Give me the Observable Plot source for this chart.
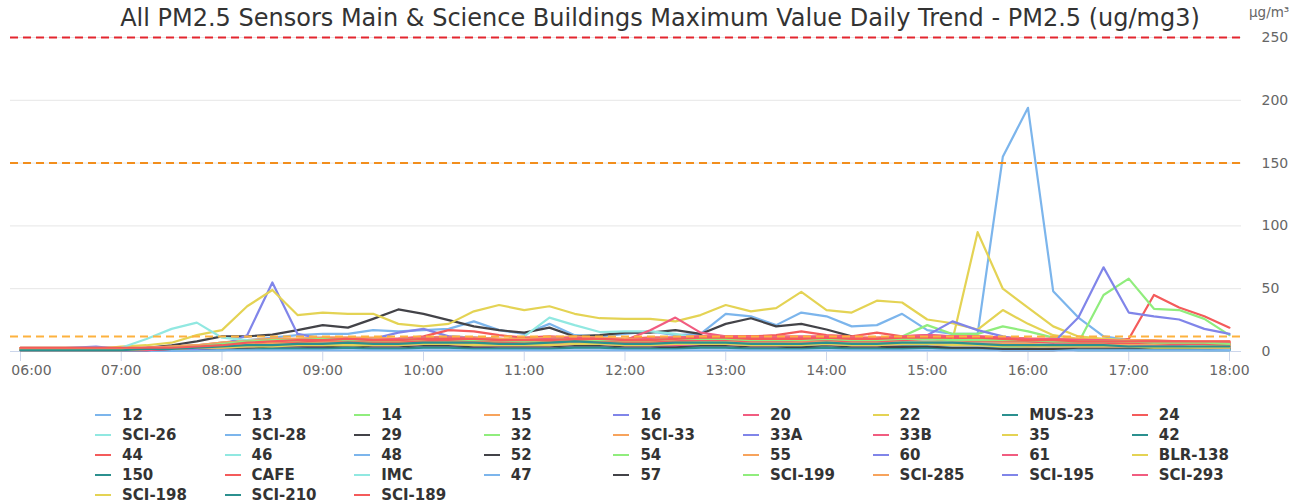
<!DOCTYPE html>
<html>
<head>
<meta charset="utf-8">
<script src="https://cdn.jsdelivr.net/npm/d3@7"></script>
<script src="https://cdn.jsdelivr.net/npm/@observablehq/plot@0.6"></script>
<style>
  html, body { margin: 0; padding: 0; background: #fff; overflow: hidden; }
  body { width: 1298px; height: 504px; font-family: "DejaVu Sans", sans-serif; }
  #header { position: relative; height: 30px; }
  #title { position: absolute; left: 0; top: 7px; width: 1320px; text-align: center; color: #333; font-size: 21.5px; line-height: 22px; white-space: nowrap; }
  #unit { position: absolute; left: 1249px; top: 5px; color: #666; font-size: 13.5px; line-height: 14px; }
  #chart { height: 360px; }
  #legend { position: relative; height: 114px; }
  .item { position: absolute; height: 20px; display: flex; align-items: center; font-weight: bold; font-size: 15px; color: #333; white-space: nowrap; }
  .sym { width: 16px; height: 2.5px; margin-right: 11px; }
</style>
</head>
<body>
<div id="header"><div id="title"></div><div id="unit"></div></div>
<div id="chart"></div>
<div id="legend"></div>
<script>
const titleText = "All PM2.5 Sensors Main & Science Buildings Maximum Value Daily Trend - PM2.5 (ug/mg3)";
const unitText = "µg/m³";

const times = ["06:00","06:15","06:30","06:45","07:00","07:15","07:30","07:45","08:00","08:15",
  "08:30","08:45","09:00","09:15","09:30","09:45","10:00","10:15","10:30","10:45",
  "11:00","11:15","11:30","11:45","12:00","12:15","12:30","12:45","13:00","13:15",
  "13:30","13:45","14:00","14:15","14:30","14:45","15:00","15:15","15:30","15:45",
  "16:00","16:15","16:30","16:45","17:00","17:15","17:30","17:45","18:00"];
const hourTicks = ["06:00","07:00","08:00","09:00","10:00","11:00","12:00","13:00","14:00","15:00","16:00","17:00","18:00"];
const yTicks = [0, 50, 100, 150, 200, 250];
const gridValues = [50, 100, 150, 200, 250];
const thresholds = [250, 150, 12];
const thresholdColors = ["#e3262f", "#f28e1c", "#fdb23e"];

const names = ["12","13","14","15","16","20","22","MUS-23","24",
  "SCI-26","SCI-28","29","32","SCI-33","33A","33B","35","42",
  "44","46","48","52","54","55","60","61","BLR-138",
  "150","CAFE","IMC","47","57","SCI-199","SCI-285","SCI-195","SCI-293",
  "SCI-198","SCI-210","SCI-189"];
const colors = ["#7cb5ec","#434348","#90ed7d","#f7a35c","#8085e9","#f15c80","#e4d354","#2b908f","#f45b5b",
  "#91e8e1","#7cb5ec","#434348","#90ed7d","#f7a35c","#8085e9","#f15c80","#e4d354","#2b908f",
  "#f45b5b","#91e8e1","#7cb5ec","#434348","#90ed7d","#f7a35c","#8085e9","#f15c80","#e4d354",
  "#2b908f","#f45b5b","#91e8e1","#7cb5ec","#434348","#90ed7d","#f7a35c","#8085e9","#f15c80",
  "#e4d354","#2b908f","#f45b5b"];

const s12 = [3,3,3,3,3,3,4,5,7,9, 11,13,14,14,17,16,17,18,24,17, 14,22,13,12,14,16,13,14,30,28, 21,31,28,20,21,30,17,14,14,155, 194,48,27,12,9,8,7,7,6];
const s13 = [2,2,2,2,2,3,5,8,12,12, 13.5,17,21,19,26,33.5,30,25,20,17, 15,19,12,13,15,15,17,14,22,26.5, 20,22,17.5,12,9,8,7,7,6,6, 5,5,5,5,4,4,4,4,4];
const s14 = [2,2,2,2,2,2,3,3,4,5, 6,6,7,7,6,6,7,8,7,6, 6,7,8,7,6,6,7,7,8,8, 7,7,6,6,7,8,8,7,7,6, 6,5,5,5,4,4,4,4,3];
const s15 = [3,3,3,3,3,3,4,5,7,9, 10,10,11,11,10,10,11,12,11,10, 10,11,11,10,10,11,11,12,11,11, 10,11,11,10,10,11,12,11,10,11, 10,10,9,9,8,8,8,7,7];
const s16 = [2,2,3,4,2,2,3,4,5,13, 55,14,10,9,10,15,18,12,11,10, 9,10,9,8,9,10,9,9,8,8, 8,9,8,8,8,9,8,8,7,7, 6,6,6,5,5,5,5,4,4];
const s20 = [2,2,2,2,2,2,3,4,5,6, 7,8,9,9,8,8,9,10,9,8, 8,9,10,9,8,9,10,11,12,11, 10,10,9,9,10,11,12,11,11,11, 10,9,8,8,7,7,7,6,6];
const s22 = [2,2,2,2,4,5,7,13,17,36, 49,29,31,30,30,22,20,22,32,37, 33,36,30,26.5,26,26,24,29,37,32, 34.5,47.5,33,31,40.5,39,25.5,22.5,17.5,33, 22,13,10,9,8,8,7,6,6];
const sMUS23 = [1,1,1,1,1,2,2,2,3,4, 5,5,6,6,5,5,6,7,6,5, 5,6,7,8,7,6,6,7,7,6, 6,7,7,6,6,7,7,6,5,5, 5,4,4,4,4,4,3,3,3];
const s24 = [2,2,2,2,2,2,3,3,4,5, 6,7,8,8,7,7,8,9,8,7, 7,8,9,8,7,7,8,9,10,9, 8,9,10,9,8,9,10,10,9,8, 7,7,6,7,10,45,35,28,19];
const sSCI26 = [2,2,2,2,3,10,18,23,11,9, 8,9,10,10,9,9,8,9,10,9, 12,27,21,15.5,16,16,14,10,12,11, 10,9,9,8,8,7,7,7,6,6, 6,5,5,5,5,4,4,4,4];
const sSCI28 = [1,1,1,1,1,1,1,1,2,2, 2,2,3,3,2,2,3,3,3,2, 2,3,3,3,2,2,3,3,3,2, 2,3,3,2,2,3,3,3,2,2, 2,2,2,2,2,2,2,1,1];
const s29 = [2,2,2,2,2,2,2,3,4,5, 6,6,7,7,6,7,8,8,7,6, 6,6,7,7,6,6,7,7,7,6, 6,6,6,5,5,5,4,3,2,1, 1,1,2,2,2,2,2,2,2];
const s32 = [1,1,1,1,1,1,2,2,2,3, 3,3,4,4,3,3,4,4,4,3, 3,4,4,4,3,3,4,4,4,3, 3,3,4,3,3,4,4,4,3,3, 3,3,3,2,2,2,2,2,2];
const sSCI33 = [2,2,2,2,2,3,3,4,6,7, 8,9,9,10,9,9,10,10,9,9, 8,9,10,9,9,9,10,10,10,9, 9,10,10,9,9,10,10,9,9,8, 8,8,8,7,7,7,6,6,6];
const s33A = [2,2,2,2,2,2,2,3,4,5, 6,6,6,7,7,8,8,7,6,6, 6,6,7,6,6,6,6,7,7,6, 6,6,7,6,6,7,7,8,7,6, 6,5,5,5,5,4,4,4,4];
const s33B = [2,2,2,2,2,2,3,3,4,6, 7,8,9,10,9,9,10,11,10,9, 9,10,11,10,9,17,27,15,12,12, 12,12,12,11,11,12,12,12,11,10, 9,9,8,8,7,7,7,6,6];
const s35 = [1,1,1,1,1,2,2,3,4,4, 5,5,6,6,7,6,6,5,6,6, 7,6,5,5,5,6,6,6,7,6, 7,8,7,6,7,7,8,9,95,50, 35,20,12,10,9,8,7,6,5];
const s42 = [1,1,1,1,1,1,2,2,2,3, 3,4,4,4,4,4,5,5,4,4, 4,4,5,5,4,4,4,5,5,4, 4,5,5,4,4,4,5,4,4,3, 3,3,3,3,3,3,3,2,2];
const s44 = [2,2,2,2,2,2,3,3,4,6, 7,8,9,9,9,10,12,17,16,13, 11,12,11,10,10,11,11,12,12,12, 13,16,13,12,15,12,13,12,12,11, 10,9,9,8,8,8,7,7,7];
const s46 = [2,2,2,2,2,2,3,4,5,6, 7,7,8,8,7,7,8,9,8,7, 7,8,9,8,7,7,8,8,8,7, 7,8,8,7,7,8,9,8,7,7, 7,6,6,6,5,5,5,5,4];
const s48 = [1,1,1,1,1,2,2,3,3,4, 5,5,5,6,5,5,6,6,6,5, 5,5,6,6,5,5,6,6,6,5, 5,6,6,5,5,6,6,5,5,5, 5,4,4,4,4,4,3,3,3];
const s52 = [1,1,1,1,1,1,1,2,2,3, 3,3,3,4,3,3,4,4,3,3, 3,3,4,4,3,3,3,4,4,3, 3,3,3,3,3,3,3,2,2,2, 2,2,2,2,2,2,2,2,2];
const s54 = [2,2,2,2,2,2,2,3,4,5, 5,6,6,6,6,6,7,7,6,6, 6,6,7,7,6,6,7,7,7,6, 6,7,7,6,7,12,21,14,14,20, 16,11,7,45,58,34,33,26,13];
const s55 = [3,3,3,3,3,3,4,5,7,8, 10,10,11,11,11,10,11,11,11,10, 10,11,12,11,10,10,11,12,12,11, 11,11,12,11,11,11,12,12,11,11, 10,10,10,9,9,9,8,8,8];
const s60 = [1,1,1,1,1,1,2,2,3,3, 4,4,4,5,4,4,5,5,4,4, 4,4,5,5,4,4,5,5,5,4, 4,5,5,5,6,10,13,24,17,12, 8,7,27,67,31,28,25.5,18,14];
const s61 = [2,2,2,2,2,3,3,4,6,8, 9,9,10,10,9,10,11,11,10,9, 9,10,11,10,9,10,11,12,12,11, 11,11,12,11,10,12,13,12,12,11, 10,10,9,9,8,8,8,7,7];
const sBLR138 = [2,2,2,2,2,2,3,4,5,6, 7,8,8,8,7,8,9,9,8,7, 7,8,9,8,8,8,9,9,9,8, 8,9,9,8,8,9,10,9,9,8, 8,8,7,7,7,6,6,6,5];
const s150 = [1,1,1,1,1,1,1,1,1,2, 2,2,2,3,2,2,3,3,2,2, 2,2,3,3,2,2,2,3,3,2, 2,2,3,2,2,2,3,2,2,2, 2,2,1,1,1,1,1,1,1];
const sCAFE = [2,2,2,2,2,2,3,3,4,5, 6,7,8,8,7,7,8,9,8,7, 7,8,9,8,7,7,8,9,9,8, 8,8,9,8,8,9,10,9,8,8, 8,7,7,7,6,6,6,6,5];
const sIMC = [1,1,1,1,1,1,2,2,3,3, 4,4,5,5,4,4,5,5,5,4, 4,4,5,5,4,4,5,5,5,4, 4,5,5,4,4,5,5,4,4,4, 4,3,3,3,3,3,3,3,2];
const s47 = [0.5,0.5,0.5,0.5,0.5,0.5,0.5,1,1,1, 1,1,1,1,1,1,1,1,1,1, 1,1,1,1,1,1,1,1,1,1, 1,1,1,1,1,1,1,1,1,1, 1,1,1,1,1,1,1,1,1];
const s57 = [1,1,1,1,1,1,2,2,3,3, 4,4,4,5,4,4,5,5,4,4, 4,4,5,5,4,4,4,5,5,4, 4,4,5,4,4,4,4,3,3,2, 2,2,3,3,3,3,3,3,3];
const sSCI199 = [2,2,2,2,2,2,3,4,6,8, 9,9,10,9,9,9,10,10,9,9, 8,9,10,9,9,9,10,10,10,9, 9,9,10,9,9,10,10,9,9,9, 9,8,8,8,8,7,7,7,6];
const sSCI285 = [2,2,2,2,2,2,2,3,4,5, 6,6,7,7,6,6,7,7,7,6, 6,7,7,7,6,6,7,7,7,6, 6,7,7,6,6,7,7,7,6,6, 6,5,5,5,5,5,4,4,4];
const sSCI195 = [1,1,1,1,1,2,2,2,3,4, 5,5,6,6,5,5,6,6,5,5, 5,5,6,6,5,5,5,6,6,5, 5,5,6,5,5,6,6,5,5,5, 5,4,4,4,4,4,4,3,3];
const sSCI293 = [1,1,1,1,1,1,2,3,3,4, 5,5,5,6,5,5,6,6,5,5, 5,5,6,6,5,5,5,6,6,5, 5,6,6,5,5,6,6,5,5,5, 4,4,4,4,4,4,4,3,3];
const sSCI198 = [1,1,1,1,1,2,2,3,3,4, 4,5,5,5,5,5,6,6,5,5, 5,5,6,6,5,5,6,6,6,5, 5,5,6,5,5,6,6,5,5,4, 4,4,4,4,4,3,3,3,3];
const sSCI210 = [1,1,1,1,1,2,2,3,4,5, 5,6,6,7,6,6,7,7,7,6, 6,7,8,7,6,6,7,7,7,6, 6,6,7,6,6,7,7,7,6,5, 5,5,5,5,4,4,4,4,4];
const sSCI189 = [3,3,3,3,3,3,3,4,5,7, 8,9,9,10,9,9,10,10,10,9, 9,9,10,10,9,9,10,11,11,10, 10,10,11,10,10,11,11,11,11,10, 9,9,8,8,8,8,8,8,8];

const values = [s12,s13,s14,s15,s16,s20,s22,sMUS23,s24,
  sSCI26,sSCI28,s29,s32,sSCI33,s33A,s33B,s35,s42,
  s44,s46,s48,s52,s54,s55,s60,s61,sBLR138,
  s150,sCAFE,sIMC,s47,s57,sSCI199,sSCI285,sSCI195,sSCI293,
  sSCI198,sSCI210,sSCI189];

const toDate = (hm) => new Date("2024-01-01T" + hm + ":00Z");
const rows = [];
names.forEach((n, k) => values[k].forEach((v, i) => rows.push({name: n, t: toDate(times[i]), v})));

const hours = hourTicks.map(toDate);
const xDomain = [new Date("2024-01-01T05:54:03Z"), new Date("2024-01-01T18:07:09Z")];
const axisStyle = {fill: "#666", stroke: "#ccd6eb", label: null, tickFormat: d3.utcFormat("%H:%M")};

const chart = Plot.plot({
  width: 1298, height: 360,
  marginTop: 7, marginBottom: 39, marginLeft: 10, marginRight: 57,
  style: {fontFamily: "DejaVu Sans, sans-serif", fontSize: "14px", background: "#fff", color: "#666", overflow: "visible"},
  x: {type: "utc", domain: xDomain},
  y: {domain: [0, 250]},
  color: {domain: names, range: colors},
  marks: [
    Plot.gridY(gridValues, {stroke: "#e6e6e6", strokeOpacity: 1, strokeWidth: 1}),
    Plot.axisY(yTicks, {anchor: "right", tickSize: 0, tickPadding: 20, label: null, fill: "#666"}),
    Plot.ruleY([0], {stroke: "#ccd6eb", strokeWidth: 1}),
    Plot.axisX(hours.slice(1), {...axisStyle, tickSize: 10, tickPadding: 4}),
    Plot.axisX(hours.slice(0, 1), {...axisStyle, tickSize: 10, tickFormat: () => ""}),
    Plot.axisX(hours.slice(0, 1), {...axisStyle, tickSize: 0, tickPadding: 14, dx: 11}),
    Plot.lineY(rows, {x: "t", y: "v", z: "name", stroke: "name", strokeWidth: 2.2, strokeLinejoin: "round", strokeLinecap: "round"}),
    ...thresholds.map((t, i) => Plot.ruleY([t], {stroke: thresholdColors[i], strokeWidth: 2, strokeDasharray: "8,5"}))
  ]
});
document.getElementById("chart").appendChild(chart);

// title, fitted to the reference span
const title = document.getElementById("title");
title.textContent = titleText;
const cv = document.createElement("canvas").getContext("2d");
cv.font = "21.5px 'DejaVu Sans'";
const w = cv.measureText(titleText).width;
title.style.fontSize = (21.5 * 1080 / w).toFixed(2) + "px";
document.getElementById("unit").textContent = unitText;

// legend
const legend = document.getElementById("legend");
names.forEach((n, k) => {
  const col = k % 9, row = Math.floor(k / 9);
  const item = document.createElement("div");
  item.className = "item";
  item.style.left = (95 + col * 129.6) + "px";
  item.style.top = (15 + row * 20) + "px";
  const sym = document.createElement("span");
  sym.className = "sym";
  sym.style.background = colors[k];
  item.appendChild(sym);
  item.appendChild(document.createTextNode(n));
  legend.appendChild(item);
});
</script>
</body>
</html>
